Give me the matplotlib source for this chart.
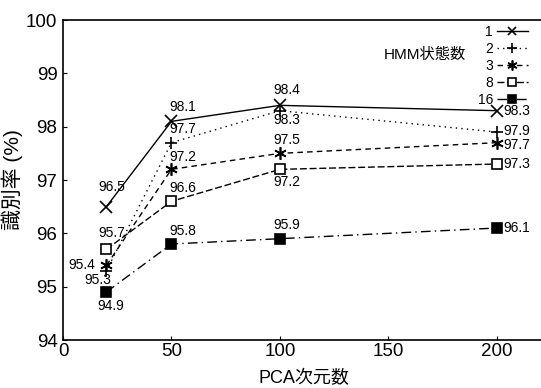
import numpy as np
import matplotlib
matplotlib.use("Agg")
import matplotlib.pyplot as plt

plt.rcParams['font.family'] = ['Liberation Sans', 'Noto Sans CJK JP']

pca_dims = [20, 50, 100, 200]
states = ["1", "2", "3", "8", "16"]
acc_1 = [96.5, 98.1, 98.4, 98.3]
acc_2 = [95.3, 97.7, 98.3, 97.9]
acc_3 = [95.4, 97.2, 97.5, 97.7]
acc_8 = [95.7, 96.6, 97.2, 97.3]
acc_16 = [94.9, 95.8, 95.9, 96.1]

series = [acc_1, acc_2, acc_3, acc_8, acc_16]
styles = [
    dict(ls='-', marker='x', ms=8, mfc='black'),
    dict(ls=(0, (1, 3)), marker='+', ms=9, mfc='black'),
    dict(ls=(0, (4, 3)), marker=(6, 2, 0), ms=9, mfc='black'),
    dict(ls=(0, (5, 2)), marker='s', ms=7, mfc='white'),
    dict(ls=(0, (7, 3, 1, 3)), marker='s', ms=7, mfc='black'),
]

# label offsets in points: (dx, dy, ha)
offs = [
    [(4, 14, 'center'), (8, 10, 'center'), (5, 11, 'center'), (5, 0, 'left')],
    [(-6, -7, 'center'), (8, 9.5, 'center'), (5, -7, 'center'), (5, 1, 'left')],
    [(-8, 0, 'right'), (8, 9, 'center'), (5, 9.5, 'center'), (5, -2, 'left')],
    [(4, 11.5, 'center'), (8, 9.5, 'center'), (5, -9, 'center'), (5, 0, 'left')],
    [(3, -10, 'center'), (8, 9.5, 'center'), (5, 9.5, 'center'), (5, 0, 'left')],
]

fig = plt.figure(figsize=(5.41, 3.88), dpi=100)
ax = fig.add_axes([0.1165, 0.1237, 0.89, 0.8247])

for vals, st, lab, off in zip(series, styles, states, offs):
    ax.plot(pca_dims, vals, color='black', lw=1, ls=st['ls'], marker=st['marker'],
            ms=st['ms'], mfc=st['mfc'], mec='black', mew=1.2, label=lab)
    for x, v, (dx, dy, ha) in zip(pca_dims, vals, off):
        ax.annotate("%.1f" % v, (x, v), xytext=(dx, dy), textcoords='offset points',
                    ha=ha, va='center', fontsize=10)

ax.set_xlim(0, 222)
ax.set_ylim(94, 100)
ax.set_xticks([0, 50, 100, 150, 200])
ax.set_yticks(np.arange(94, 101, 1))
ax.tick_params(direction='in', length=3, labelsize=13.5, pad=2)
ax.tick_params(axis='y', pad=4)
ax.spines['right'].set_visible(False)
for s in ax.spines.values():
    s.set_linewidth(1.2)

ax.set_xlabel("PCA次元数", fontsize=13, labelpad=7)
ax.set_ylabel("識別率 (%)", fontsize=15, labelpad=2)

leg = ax.legend(loc='upper right', bbox_to_anchor=(0.965, 0.985), frameon=False,
                markerfirst=False, handlelength=2.2, handletextpad=0.3,
                labelspacing=0.22, fontsize=10, borderaxespad=0, borderpad=0,
                markerscale=0.8)
ax.text(0.667, 0.89, "HMM状態数", transform=ax.transAxes, fontsize=11, va='center')

fig.savefig("out.png", dpi=100)
